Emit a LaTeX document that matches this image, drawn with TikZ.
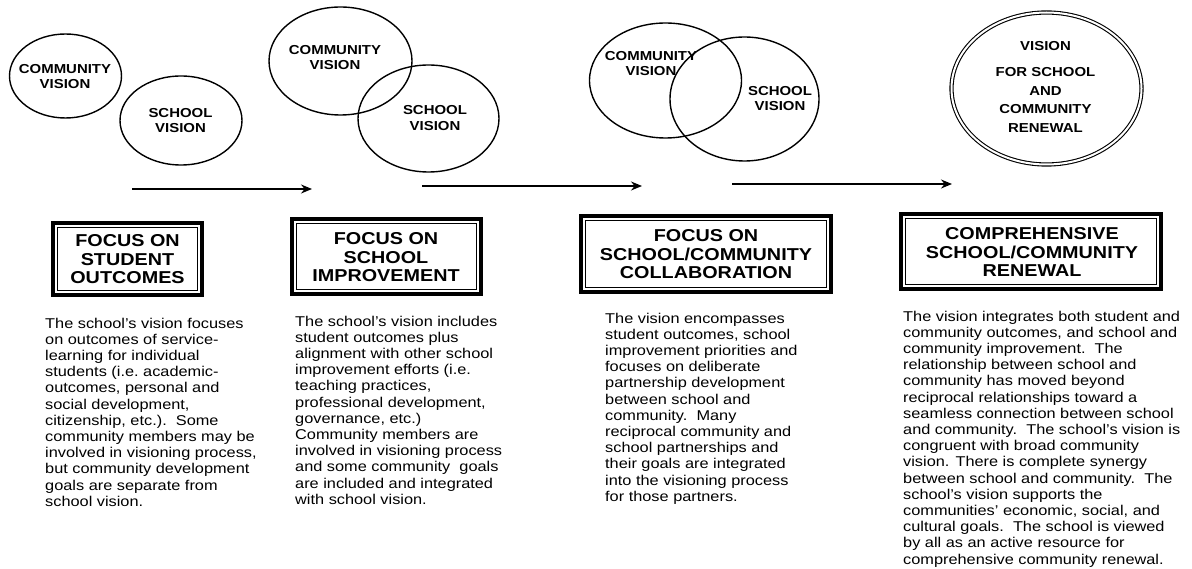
\documentclass[tikz,border=0pt]{standalone}
\usepackage{fontspec}
\setmainfont{Liberation Sans}[FakeStretch=1.15]
\usetikzlibrary{shapes.geometric,arrows.meta}
\begin{document}
\begin{tikzpicture}[x=1pt,y=-1pt,
  vis/.style={draw, ellipse, line width=1.4pt, inner sep=0pt},
  lab/.style={font=\fontsize{13}{15.5}\selectfont\bfseries, align=center, inner sep=0pt},
  ttl/.style={font=\fontsize{17.2}{18.5}\selectfont\bfseries, align=center, inner sep=0pt},
  body/.style={font=\fontsize{14.2}{16.2}\selectfont, align=left, anchor=north west, inner sep=0pt},
  arr/.style={line width=1.5pt, -{Stealth[length=11pt,width=9pt]}},
  outerbox/.style={draw, line width=3.2pt, inner sep=0pt},
  innerbox/.style={draw, line width=1.4pt, inner sep=0pt}
]
\useasboundingbox (0,0) rectangle (1192,569);

% ---------- Stage 1 ----------
\node[vis, minimum width=112pt, minimum height=84pt] (c1) at (65.5,76) {};
\node[vis, minimum width=122pt, minimum height=89pt] (s1) at (181,120.5) {};
\node[lab] (c1t) at (65,76.5) {COMMUNITY\\VISION};
\node[lab] (s1t) at (180.5,120.5) {SCHOOL\\VISION};

% ---------- Stage 2 ----------
\node[vis, minimum width=143pt, minimum height=108pt] (c2) at (340.5,61) {};
\node[vis, minimum width=141pt, minimum height=107pt] (s2) at (428.5,118.5) {};
\node[lab] (c2t) at (335,57.5) {COMMUNITY\\VISION};
\node[lab] (s2t) at (435,118) {SCHOOL\\VISION};

% ---------- Stage 3 ----------
\node[vis, minimum width=152pt, minimum height=115pt] (c3) at (665.5,80.5) {};
\node[vis, minimum width=149pt, minimum height=124pt] (s3) at (744.5,99) {};
\node[lab] (c3t) at (651,63.5) {COMMUNITY\\VISION};
\node[lab] (s3t) at (780,98.5) {SCHOOL\\VISION};

% ---------- Stage 4 ----------
\node[draw, ellipse, double, double distance=2pt, line width=1.1pt, inner sep=0pt,
      minimum width=190pt, minimum height=152pt] (v4) at (1046.5,88.5) {};
\node[lab] (v4a) at (1045.5,46) {VISION};
\node[lab, font=\fontsize{13}{18.7}\selectfont\bfseries] (v4b) at (1045.5,100) {FOR SCHOOL\\AND\\COMMUNITY\\RENEWAL};

% ---------- Arrows ----------
\coordinate (a1s) at (132,189);
\coordinate (a1e) at (312,189);
\coordinate (a2s) at (422,186);
\coordinate (a2e) at (642,186);
\coordinate (a3s) at (732,184);
\coordinate (a3e) at (952,184);
\draw[arr] (a1s) -- (a1e);
\draw[arr] (a2s) -- (a2e);
\draw[arr] (a3s) -- (a3e);

% ---------- Boxes ----------
\node[outerbox, minimum width=149pt, minimum height=72pt] (b1) at (127.5,259) {};
\node[innerbox, minimum width=140pt, minimum height=63pt] (b1i) at (127.5,259) {};
\node[ttl] (b1t) at (127.5,259.5) {FOCUS ON\\STUDENT\\OUTCOMES};

\node[outerbox, minimum width=189pt, minimum height=75pt] (b2) at (386.5,256.5) {};
\node[innerbox, minimum width=180pt, minimum height=66pt] (b2i) at (386.5,256.5) {};
\node[ttl] (b2t) at (386,257.5) {FOCUS ON\\SCHOOL\\IMPROVEMENT};

\node[outerbox, minimum width=250pt, minimum height=76pt] (b3) at (706,254) {};
\node[innerbox, minimum width=241pt, minimum height=67pt] (b3i) at (706,254) {};
\node[ttl] (b3t) at (706,254.5) {FOCUS ON\\SCHOOL/COMMUNITY\\COLLABORATION};

\node[outerbox, minimum width=260pt, minimum height=75pt] (b4) at (1031,251.5) {};
\node[innerbox, minimum width=251pt, minimum height=66pt] (b4i) at (1031,251.5) {};
\node[ttl] (b4t) at (1032,252) {COMPREHENSIVE\\SCHOOL/COMMUNITY\\RENEWAL};

% ---------- Body texts ----------
\node[body] (t1) at (45,317.6) {The school's vision focuses\\
on outcomes of service-\\
learning for individual\\
students (i.e.\ academic-\\
outcomes, personal and\\
social development,\\
citizenship, etc.).\ \ Some\\
community members may be\\
involved in visioning process,\\
but community development\\
goals are separate from\\
school vision.};

\node[body] (t2) at (295,315.6) {The school's vision includes\\
student outcomes plus\\
alignment with other school\\
improvement efforts (i.e.\\
teaching practices,\\
professional development,\\
governance, etc.)\\
Community members are\\
involved in visioning process\\
and some community\ \ goals\\
are included and integrated\\
with school vision.};

\node[body] (t3) at (605,312.6) {The vision encompasses\\
student outcomes, school\\
improvement priorities and\\
focuses on deliberate\\
partnership development\\
between school and\\
community.\ \ Many\\
reciprocal community and\\
school partnerships and\\
their goals are integrated\\
into the visioning process\\
for those partners.};

\node[body] (t4) at (903,310.6) {The vision integrates both student and\\
community outcomes, and school and\\
community improvement.\ \ The\\
relationship between school and\\
community has moved beyond\\
reciprocal relationships toward a\\
seamless connection between school\\
and community.\ \ The school's vision is\\
congruent with broad community\\
vision. There is complete synergy\\
between school and community.\ \ The\\
school's vision supports the\\
communities' economic, social, and\\
cultural goals.\ \ The school is viewed\\
by all as an active resource for\\
comprehensive community renewal.};
\end{tikzpicture}
\end{document}
